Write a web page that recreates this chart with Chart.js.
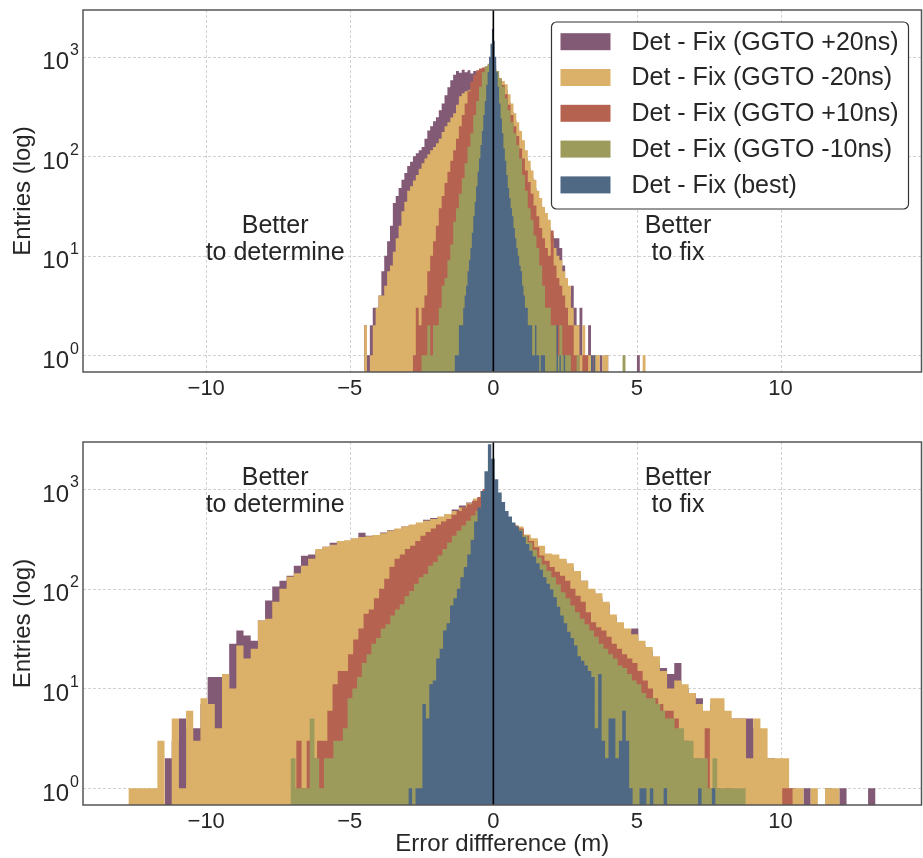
<!DOCTYPE html>
<html lang="en">
<head>
    <meta charset="UTF-8">
    <title>Det - Fix error difference</title>
    <script src="https://cdn.jsdelivr.net/npm/chart.js@4.4.0/dist/chart.umd.min.js"></script>
    <style>
        html, body { margin: 0; padding: 0; background: #fff; }
        #wrap { position: relative; width: 923px; height: 858px; }
        canvas { position: absolute; left: 0; }
        #topChart { top: 0; }
        #bottomChart { top: 420px; }
    </style>
</head>
<body>
<div id="wrap">
    <canvas id="topChart" width="923" height="420"></canvas>
    <canvas id="bottomChart" width="923" height="438"></canvas>
</div>
<script>
    // series, in drawing order (first one is at the back)
    const seriesLabels = ['Det - Fix (GGTO +20ns)', 'Det - Fix (GGTO -20ns)', 'Det - Fix (GGTO +10ns)', 'Det - Fix (GGTO -10ns)', 'Det - Fix (best)'];

    const xTickValues = [-10, -5, 0, 5, 10];
    const yTickValues = [1, 10, 100, 1000];

    // upper panel: left edge of first bin, bin width, counts per bin
    const topBinStart = [-4.5, -4.5, -2.9, -2.6, -1.35];
    const topBinWidth = [0.1, 0.1, 0.1, 0.1, 0.05];

    const topPurple = [1,2,1,2,3,3,4,7,10,14, 20,34,40,48,58,68,80,88,100,107,
        115,124,150,182,200,225,247,290,339,410, 493,580,660,720,690,740,700,730,680,720,
        700,730,710,760,800,780,700,620,560,500, 470,350,280,230,185,150,120,95,75,60,
        48,38,32,26,22,19,16,15,15,12, 8,6,4,5,3,2,3,1,1,2,
        1,1,0,1,0,1,0,0,0,0, 0,0,0,0,0,0,1];
    const topOrange = [1,2,0,1,2,3,4,4,5,7, 8,11,15,20,28,35,45,50,57,65,
        75,85,95,105,115,124,135,150,175,200, 220,245,270,330,400,430,450,460,480,500,
        520,560,620,700,760,760,700,650,610,570, 530,420,340,270,220,180,145,115,90,72,
        58,45,38,31,27,23,14,12,10,9, 7,6,5,3,2,2,1,2,1,1,
        0,1,1,0,1,1,0,0,0,0, 0,0,0,0,0,0,0,0,1];
    const topRed = [1,0,1,3,2,3,4,7,10,14, 20,30,40,54,70,90,115,150,200,260,
        340,450,560,660,730,760,780,800,820,800, 740,680,600,520,420,330,260,200,160,120,
        95,72,55,42,32,25,19,15,12,10, 18,8,6,5,4,3,2,2,1,1,
        0,1,1];
    const topGreen = [1,0,1,1,2,1,2,2,3,5, 6,9,13,22,30,42,60,85,125,170,
        260,360,500,700,800,850,850,800,720,600, 500,380,290,220,170,130,95,65,45,30,
        23,16,12,8,5,3,3,2,2,1, 2,1,1,1,0,0,1,0,0,0,
        0,0,0,0,0,0,0,0,0,0, 0,0,1];
    const topBlue = [1,1,1,1,2,2,2,3,4,5, 7,9,12,17,25,35,50,70,95,130,
        180,260,360,520,700,1000,1350,1900,1450,1000, 700,500,340,240,170,120,90,65,48,38,
        30,25,19,15,12,10,8,7,5,4, 3,3,2,2,2,1,1,2,1,1,
        0,1,1,1,0,0,0,0,0,0, 0,0,2,0,1,0,0,1,0,0,
        0,0,0,0,0,0,0,0,0,0, 0,0,0,0,0,0,1,0,1];

    // lower panel
    const bottomBinStart = [-11.45, -12.95, -7.4, -7.55, -4.15];
    const bottomBinWidth = [0.25, 0.25, 0.18, 0.165, 0.12];

    const bottomPurple = [4,2,3,5,4,4,7,13,13,9, 28,38,34,30,48,76,105,120,135,170,
        214,220,240,263,288,295,300,316,363,340, 345,365,385,395,420,430,445,490,510,520,
        560,620,680,730,790,950,850,580,450,410, 380,330,300,260,210,200,190,165,138,120,
        95,80,70,52,44,38,40,27,24,18, 16,14,18,10,9,8,5,7,6,4,
        5,5,5,4,2,2,1,0,1,0, 1,0,0,1,0,1,0,0,0,1];
    const bottomOrange = [2,0,1,1,1,1,3,0,5,1, 6,3,8,7,4,14,10,27,20,25,
        48,50,74,100,132,143,170,200,250,263, 275,300,305,320,330,335,345,360,380,400,
        420,440,460,480,500,530,560,600,650,720, 800,900,900,600,470,440,420,350,320,270,
        225,220,200,180,150,120,100,90,74,55, 46,40,35,30,26,21,15,10,12,11,
        9,7,6,8,8,6,5,5,2,5, 4,2,2,2,1,1,0,1,0,1,
        1];
    const bottomRed = [1,0,0,1,3,1,3,2,3,3, 6,11,15,15,22,31,40,56,62,80,
        100,126,166,200,220,250,270,300,340,370, 400,440,470,500,550,600,650,700,760,830,
        1000,1000,720,560,480,450,430,400,340,300, 260,215,190,165,148,135,120,100,85,74,
        58,46,41,38,33,28,25,22,20,18, 15,12,10,8,7,6,6,5,3,3,
        1,2,1,4,1,1,0,1,0,0, 0,0,0,0,0,0,0,0,1,1];
    const bottomGreen = [1,0,0,0,2,1,1,1,5,2, 1,2,2,3,3,4,8,10,13,18,
        22,28,32,40,44,54,62,70,84,95, 112,130,140,170,185,215,250,290,340,380,
        430,480,540,600,650,900,800,600,500,460, 440,420,390,340,290,245,205,175,150,130,
        110,92,80,68,58,50,44,38,33,28, 25,22,20,17,16,14,12,11,9,8,
        8,7,6,5,5,4,4,3,3,2, 2,2,1,2,1,1,1,1,1,1];
    const bottomBlue = [1,0,0,0,0,0,0,0,0,0, 0,1,0,1,1,7,5,11,12,20,
        25,38,45,68,80,100,130,165,220,310, 470,650,950,1500,2800,2000,1250,920,740,600,
        530,460,420,380,330,280,240,210,180,155, 130,112,98,82,66,54,45,37,32,27,
        21,19,17,15,13,4,14,3,2,5, 5,2,3,6,3,1,0,0,1,1,
        0,1,0,0,0,1,0,0,0,0, 0,0,0,0,0,1,0,0,0,1];

    const seriesColors = ['#835a76', '#dbb068', '#b66250', '#9c9b5c', '#4f6884'];
    const FONT = '"Liberation Sans", Arial, sans-serif';
    const TEXT = '#262626';
    const FLOOR = 0.1;   // empty bins sit below the axis

    function histPoints(start, width, counts) {
        const pts = [{x: start, y: FLOOR}];
        counts.forEach((c, i) => pts.push({x: start + i * width, y: c > 0 ? c : FLOOR}));
        pts.push({x: start + counts.length * width, y: FLOOR});
        return pts;
    }

    function minusLabel(v) {
        return v < 0 ? '\u2212' + Math.abs(v) : String(v);
    }

    // grid, frame, zero line, y tick labels, notes and legend
    const decorate = {
        id: 'decorate',
        beforeDatasetsDraw(chart) {
            const {ctx, chartArea: a, scales: {x, y}} = chart;
            ctx.save();
            ctx.strokeStyle = '#d2d2d2';
            ctx.lineWidth = 1;
            ctx.setLineDash([3, 2]);
            xTickValues.forEach(v => {
                const px = Math.round(x.getPixelForValue(v)) + 0.5;
                ctx.beginPath(); ctx.moveTo(px, a.top); ctx.lineTo(px, a.bottom); ctx.stroke();
            });
            yTickValues.forEach(v => {
                const py = Math.round(y.getPixelForValue(v)) + 0.5;
                ctx.beginPath(); ctx.moveTo(a.left, py); ctx.lineTo(a.right, py); ctx.stroke();
            });
            ctx.restore();
        },
        afterDatasetsDraw(chart) {
            const {ctx, chartArea: a, scales: {x}} = chart;
            ctx.save();
            const zx = x.getPixelForValue(0);
            ctx.strokeStyle = '#000';
            ctx.lineWidth = 1.6;
            ctx.beginPath(); ctx.moveTo(zx, a.top); ctx.lineTo(zx, a.bottom); ctx.stroke();
            ctx.strokeStyle = '#555';
            ctx.lineWidth = 1.5;
            ctx.strokeRect(a.left, a.top, a.right - a.left, a.bottom - a.top);
            ctx.restore();
        },
        afterDraw(chart, args, opts) {
            const {ctx, chartArea: a, scales: {x, y}} = chart;
            ctx.save();
            ctx.fillStyle = TEXT;

            yTickValues.forEach(v => {
                const py = y.getPixelForValue(v);
                ctx.font = '24px ' + FONT;
                ctx.textAlign = 'right';
                ctx.textBaseline = 'middle';
                ctx.fillText('10', a.left - 14, py + 6);
                ctx.font = '16px ' + FONT;
                ctx.textAlign = 'left';
                ctx.fillText(String(Math.round(Math.log10(v))), a.left - 13, py - 6);
            });

            ctx.font = '25px ' + FONT;
            ctx.textAlign = 'center';
            ctx.textBaseline = 'middle';
            (opts.notes || []).forEach(n => {
                const px = x.getPixelForValue(n.x);
                const py = y.getPixelForValue(n.y);
                ctx.fillText(n.lines[0], px, py - 13.5);
                ctx.fillText(n.lines[1], px, py + 13.5);
            });

            if (opts.legend) {
                const bx = a.right - 370, by = a.top + 12, bw = 357, bh = 187;
                ctx.beginPath();
                ctx.roundRect(bx, by, bw, bh, 5);
                ctx.fillStyle = 'rgba(255,255,255,0.92)';
                ctx.fill();
                ctx.strokeStyle = '#333';
                ctx.lineWidth = 1.2;
                ctx.stroke();
                ctx.textAlign = 'left';
                seriesLabels.forEach((label, i) => {
                    const cy = by + 19.7 + i * 35.8;
                    ctx.fillStyle = seriesColors[i];
                    ctx.fillRect(bx + 9, cy - 8.5, 50, 17);
                    ctx.fillStyle = TEXT;
                    ctx.fillText(label, bx + 80, cy + 1);
                });
            }
            ctx.restore();
        }
    };

    function makeChart(id, starts, widths, counts, extra) {
        const datasets = seriesLabels.map((label, i) => ({
            label: label,
            data: histPoints(starts[i], widths[i], counts[i]),
            backgroundColor: seriesColors[i],
            borderWidth: 0,
            pointRadius: 0,
            stepped: 'after',
            fill: 'start',
            order: seriesLabels.length - i
        }));

        return new Chart(document.getElementById(id).getContext('2d'), {
            type: 'line',
            data: {datasets: datasets},
            options: {
                responsive: false,
                animation: false,
                devicePixelRatio: 1,
                events: [],
                layout: {padding: {top: extra.padTop, right: 1.5, left: 0, bottom: 0}},
                plugins: {
                    legend: {display: false},
                    tooltip: {enabled: false},
                    decorate: {legend: extra.legend, notes: extra.notes}
                },
                scales: {
                    x: {
                        type: 'linear',
                        min: -14.29,
                        max: 14.91,
                        grid: {display: false, drawTicks: false},
                        border: {display: false},
                        afterBuildTicks: axis => { axis.ticks = xTickValues.map(v => ({value: v})); },
                        afterFit: axis => { axis.height = extra.xHeight; },
                        ticks: {
                            padding: 4,
                            color: TEXT,
                            font: {family: FONT, size: 22},
                            maxRotation: 0,
                            callback: v => minusLabel(v)
                        },
                        title: {
                            display: !!extra.xTitle,
                            text: extra.xTitle || '',
                            color: TEXT,
                            font: {family: FONT, size: 24, lineHeight: 1},
                            padding: {top: 0, bottom: 2}
                        }
                    },
                    y: {
                        type: 'logarithmic',
                        min: 0.68,
                        max: 2950,
                        grid: {display: false, drawTicks: false},
                        border: {display: false},
                        afterBuildTicks: axis => { axis.ticks = yTickValues.map(v => ({value: v})); },
                        afterFit: axis => { axis.width = 83; },
                        ticks: {display: false},
                        title: {
                            display: true,
                            text: 'Entries (log)',
                            color: TEXT,
                            font: {family: FONT, size: 24, lineHeight: 1},
                            padding: {top: 11, bottom: 0}
                        }
                    }
                }
            },
            plugins: [decorate]
        });
    }

    makeChart('topChart', topBinStart, topBinWidth,
        [topPurple, topOrange, topRed, topGreen, topBlue],
        {
            padTop: 10, xHeight: 48, legend: true,
            notes: [
                {x: -7.6, y: 14.6, lines: ['Better', 'to determine']},
                {x: 6.43, y: 14.6, lines: ['Better', 'to fix']}
            ]
        });

    makeChart('bottomChart', bottomBinStart, bottomBinWidth,
        [bottomPurple, bottomOrange, bottomRed, bottomGreen, bottomBlue],
        {
            padTop: 22, xHeight: 53, legend: false, xTitle: 'Error diffference (m)',
            notes: [
                {x: -7.6, y: 945, lines: ['Better', 'to determine']},
                {x: 6.43, y: 945, lines: ['Better', 'to fix']}
            ]
        });
</script>
</body>
</html>
